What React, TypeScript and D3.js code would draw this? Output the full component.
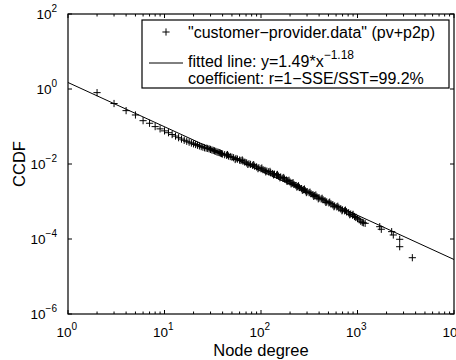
import React from "react";
import * as d3 from "d3";

// Node degree values and their complementary cumulative distribution
const degrees = [
  2, 3, 4, 5, 6, 7, 8, 9, 10, 11, 12, 13, 14, 15, 16, 17, 18, 19, 20, 21, 22, 23, 24, 25, 26, 27, 28, 29, 30,
  31, 32, 33, 34, 35, 36, 37, 38, 39, 40, 42, 44, 46, 48, 50, 52, 55, 57, 60, 62, 65, 68, 71, 75, 78, 82, 86,
  90, 95, 100, 105, 110, 115, 120, 126, 132, 138, 145, 152, 160, 168, 175, 183, 190, 200, 210, 220, 230, 240,
  250, 262, 275, 288, 300, 315, 330, 345, 360, 380, 400, 420, 440, 460, 480, 505, 530, 555, 580, 610, 640,
  670, 700, 735, 770, 810, 850, 890, 930, 960, 1000, 1080, 1150, 1200, 1700, 1765, 2260, 2350, 2737, 2737, 3700,
  45, 54, 64, 73, 84, 93, 102, 112, 124, 135, 148, 157, 172, 186, 195, 205, 215, 235, 245, 268, 282, 295, 322,
  352, 370, 392, 430, 470, 515, 570, 625, 690, 750, 830, 900, 1040, 1120,
];
const ccdf = [
  0.80, 0.41, 0.265, 0.203, 0.143, 0.122, 0.0993, 0.0865, 0.0764, 0.0682, 0.061, 0.0555, 0.0502, 0.0462,
  0.0429, 0.0404, 0.0382, 0.0362, 0.0345, 0.033, 0.0316, 0.0303, 0.0291, 0.0281, 0.0271, 0.0265, 0.026,
  0.0253, 0.0245, 0.0236, 0.023, 0.0224, 0.0217, 0.0209, 0.0205, 0.0201, 0.0195, 0.0189, 0.0185, 0.0177,
  0.0171, 0.0163, 0.0158, 0.0152, 0.0147, 0.014, 0.0135, 0.0127, 0.0124, 0.0119, 0.0112, 0.0107, 0.0101,
  0.00977, 0.0092, 0.00873, 0.00836, 0.00793, 0.00746, 0.00705, 0.00675, 0.00647, 0.00617, 0.00582, 0.00556,
  0.00535, 0.00505, 0.00476, 0.00449, 0.00419, 0.00399, 0.00375, 0.00358, 0.0033, 0.00304, 0.00284, 0.00267,
  0.00251, 0.00236, 0.00221, 0.00207, 0.00193, 0.00182, 0.00172, 0.00161, 0.00151, 0.00144, 0.00133, 0.00124,
  0.00117, 0.00111, 0.00104, 0.000975, 0.000918, 0.000869, 0.000813, 0.000762, 0.000719, 0.000679, 0.000635,
  0.000597, 0.000564, 0.000533, 0.000497, 0.000463, 0.00043, 0.000398, 0.000375, 0.000349, 0.000298,
  0.00027, 0.000262, 0.000213, 0.000182, 0.000157, 0.000128, 0.0000982, 0.0000623, 0.0000317,
  0.01786, 0.01315, 0.0128, 0.00975, 0.00962, 0.00752, 0.00782, 0.00617, 0.00635, 0.00512, 0.00527, 0.00429,
  0.00437, 0.00343, 0.00368, 0.00295, 0.00317, 0.00243, 0.00262, 0.00199, 0.00215, 0.00173, 0.00177, 0.00137,
  0.00149, 0.00118, 0.00122, 0.000944, 0.000962, 0.000726, 0.000748, 0.000566, 0.000589, 0.000445, 0.000454,
  0.000326, 0.000279,
];

// Power-law fit y = a * x^b
const fitA = 1.49;
const fitB = -1.18;

const xTickExponents = [0, 1, 2, 3, 4];
const yTickExponents = [2, 0, -2, -4, -6];
const minorMultipliers = [2, 3, 4, 5, 6, 7, 8, 9];

const seriesLabel = "\"customer\u2212provider.data\" (pv+p2p)";
const fitLabel = "fitted line: y=1.49*x";
const fitLabelExp = "\u22121.18";
const coefLabel = "coefficient: r=1\u2212SSE/SST=99.2%";

const fmtExp = (e: number) => (e < 0 ? "\u2212" + Math.abs(e) : String(e));

export default function App() {
  const W = 456;
  const H = 360;
  const left = 68;
  const right = 454;
  const top = 14;
  const bottom = 314;

  const x = d3.scaleLog().domain([1, 1e4]).range([left, right]);
  const y = d3.scaleLog().domain([1e-6, 1e2]).range([bottom, top]);

  const font = "'Liberation Sans', Arial, Helvetica, sans-serif";

  const fitXs = [1, 1e4];
  const fitLine = d3
    .line<number>()
    .x((d) => x(d))
    .y((d) => y(fitA * Math.pow(d, fitB)))(fitXs) as string;

  const minorXs: number[] = [];
  for (let k = 0; k < 4; k++) {
    for (const m of minorMultipliers) minorXs.push(m * Math.pow(10, k));
  }

  const points = degrees.map((d, i) => ({ d, p: ccdf[i] }));
  const ms = 3.6;

  return (
    <svg
      width={W}
      height={H}
      style={{ position: "absolute", left: 0, top: 0, background: "#fff" }}
      fontFamily={font}
    >
      <rect x={0} y={0} width={W} height={H} fill="#fff" />
      <defs>
        <clipPath id="plotClip">
          <rect x={left} y={top} width={right - left} height={bottom - top} />
        </clipPath>
      </defs>

      {/* fitted power law */}
      <path d={fitLine} fill="none" stroke="#000" strokeWidth={1} clipPath="url(#plotClip)" />

      {/* data markers */}
      <g stroke="#000" strokeWidth={1} clipPath="url(#plotClip)">
        {points.map((pt, i) => {
          const cx = x(pt.d);
          const cy = y(pt.p);
          return (
            <g key={i}>
              <line x1={cx - ms} x2={cx + ms} y1={cy} y2={cy} />
              <line x1={cx} x2={cx} y1={cy - ms} y2={cy + ms} />
            </g>
          );
        })}
      </g>

      {/* axes box */}
      <rect x={left} y={top} width={right - left} height={bottom - top} fill="none" stroke="#000" strokeWidth={1.2} />

      {/* ticks: x major + minor on bottom and top, y major on left and right */}
      <g stroke="#000" strokeWidth={1}>
        {xTickExponents.map((e) => {
          const px = x(Math.pow(10, e));
          return (
            <g key={"xm" + e}>
              <line x1={px} x2={px} y1={bottom} y2={bottom - 4} />
              <line x1={px} x2={px} y1={top} y2={top + 4} />
            </g>
          );
        })}
        {minorXs.map((v, i) => {
          const px = x(v);
          return (
            <g key={"xn" + i}>
              <line x1={px} x2={px} y1={bottom} y2={bottom - 2.5} />
              <line x1={px} x2={px} y1={top} y2={top + 2.5} />
            </g>
          );
        })}
        {yTickExponents.map((e) => {
          const py = y(Math.pow(10, e));
          return (
            <g key={"ym" + e}>
              <line x1={left} x2={left + 4} y1={py} y2={py} />
              <line x1={right} x2={right - 4} y1={py} y2={py} />
            </g>
          );
        })}
      </g>

      {/* x tick labels */}
      <g fontSize={13.5} fill="#000">
        {xTickExponents.map((e) => {
          const px = x(Math.pow(10, e));
          return (
            <text key={"xl" + e} x={px - 11.5} y={337}>
              10
              <tspan fontSize={10} dy={-7}>
                {fmtExp(e)}
              </tspan>
            </text>
          );
        })}
      </g>

      {/* y tick labels */}
      <g fontSize={13.5} fill="#000">
        {yTickExponents.map((e) => {
          const py = y(Math.pow(10, e));
          return (
            <text key={"yl" + e} x={left - 11} y={py + 5} textAnchor="end">
              10
              <tspan fontSize={10} dy={-7}>
                {fmtExp(e)}
              </tspan>
            </text>
          );
        })}
      </g>

      {/* axis titles */}
      <text x={261} y={355.5} fontSize={16.5} textAnchor="middle" fill="#000">
        Node degree
      </text>
      <text
        transform={`translate(25, ${(top + bottom) / 2}) rotate(-90)`}
        fontSize={16.5}
        textAnchor="middle"
        fill="#000"
      >
        CCDF
      </text>

      {/* legend */}
      <g>
        <rect x={142} y={20} width={307} height={68} fill="#fff" stroke="#000" strokeWidth={1.2} />
        <g stroke="#000" strokeWidth={1}>
          <line x1={166 - ms} x2={166 + ms} y1={32} y2={32} />
          <line x1={166} x2={166} y1={32 - ms} y2={32 + ms} />
        </g>
        <line x1={149} x2={183} y1={63} y2={63} stroke="#000" strokeWidth={1} />
        <g fontSize={16} fill="#000">
          <text x={188} y={37.5}>
            {seriesLabel}
          </text>
          <text x={188} y={66.5}>
            {fitLabel}
            <tspan fontSize={12} dy={-8}>
              {fitLabelExp}
            </tspan>
          </text>
          <text x={188} y={83.5}>
            {coefLabel}
          </text>
        </g>
      </g>
    </svg>
  );
}
